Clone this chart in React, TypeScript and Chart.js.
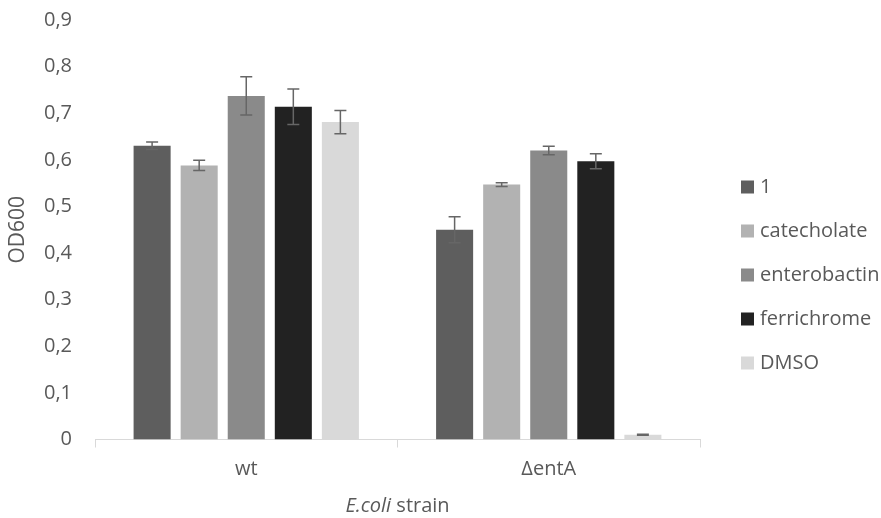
import React, { useEffect, useRef } from "react";
import { Chart, registerables } from "chart.js";

Chart.register(...registerables);

const categories = ["wt", "ΔentA"];
const seriesNames = ["1", "catecholate", "enterobactin", "ferrichrome", "DMSO"];
const seriesColors = ["#5e5e5e", "#b2b2b2", "#8a8a8a", "#222222", "#d9d9d9"];

const values1 = [0.63, 0.45];
const valuesCatecholate = [0.588, 0.547];
const valuesEnterobactin = [0.737, 0.62];
const valuesFerrichrome = [0.714, 0.597];
const valuesDMSO = [0.681, 0.01];

const errors1 = [0.008, 0.028];
const errorsCatecholate = [0.011, 0.004];
const errorsEnterobactin = [0.041, 0.009];
const errorsFerrichrome = [0.038, 0.016];
const errorsDMSO = [0.025, 0.001];

const yTickLabels = ["0", "0,1", "0,2", "0,3", "0,4", "0,5", "0,6", "0,7", "0,8", "0,9"];

const yTitle = "OD600";
const xTitleItalic = "E.coli";
const xTitleRest = " strain";

const FONT = "'Open Sans', sans-serif";
const TEXT = "#595959";

const allValues = [values1, valuesCatecholate, valuesEnterobactin, valuesFerrichrome, valuesDMSO];
const allErrors = [errors1, errorsCatecholate, errorsEnterobactin, errorsFerrichrome, errorsDMSO];

const extrasPlugin = {
  id: "extras",
  afterDatasetsDraw(chart: any) {
    const ctx = chart.ctx;
    const y = chart.scales.y;
    ctx.save();
    ctx.strokeStyle = "#666666";
    ctx.lineWidth = 1.5;
    chart.data.datasets.forEach((ds: any, di: number) => {
      const meta = chart.getDatasetMeta(di);
      meta.data.forEach((bar: any, i: number) => {
        const v = ds.data[i];
        const e = ds.errors[i];
        const x = bar.x;
        const top = y.getPixelForValue(v + e);
        const bot = y.getPixelForValue(v - e);
        ctx.beginPath();
        ctx.moveTo(x, top);
        ctx.lineTo(x, bot);
        ctx.moveTo(x - 6, top);
        ctx.lineTo(x + 6, top);
        ctx.moveTo(x - 6, bot);
        ctx.lineTo(x + 6, bot);
        ctx.stroke();
      });
    });
    ctx.restore();
  },
  afterDraw(chart: any) {
    const ctx = chart.ctx;
    const area = chart.chartArea;
    ctx.save();
    // legend
    ctx.font = `20px ${FONT}`;
    ctx.textBaseline = "middle";
    ctx.textAlign = "left";
    const bx = area.right + 41;
    const y0 = area.top + 167;
    const step = 44;
    seriesNames.forEach((name, i) => {
      const cy = y0 + i * step;
      ctx.fillStyle = seriesColors[i];
      ctx.fillRect(bx, cy - 6.5, 13, 13);
      ctx.fillStyle = TEXT;
      ctx.fillText(name, bx + 19, cy);
    });
    // y title
    ctx.save();
    ctx.translate(18, (area.top + area.bottom) / 2);
    ctx.rotate(-Math.PI / 2);
    ctx.textAlign = "center";
    ctx.textBaseline = "middle";
    ctx.fillStyle = TEXT;
    ctx.font = `21px ${FONT}`;
    ctx.fillText(yTitle, 0, 0);
    ctx.restore();
    // x title
    const italicFont = `italic 20px ${FONT}`;
    const normalFont = `20px ${FONT}`;
    ctx.font = italicFont;
    const w1 = ctx.measureText(xTitleItalic).width;
    ctx.font = normalFont;
    const w2 = ctx.measureText(xTitleRest).width;
    const cx = (area.left + area.right) / 2;
    let sx = cx - (w1 + w2) / 2;
    ctx.textAlign = "left";
    ctx.textBaseline = "middle";
    ctx.fillStyle = TEXT;
    ctx.font = italicFont;
    ctx.fillText(xTitleItalic, sx, 506);
    ctx.font = normalFont;
    ctx.fillText(xTitleRest, sx + w1, 506);
    ctx.restore();
  },
};

export default function App() {
  const ref = useRef<HTMLCanvasElement>(null);
  useEffect(() => {
    if (!ref.current) return;
    const chart = new Chart(ref.current, {
      type: "bar",
      data: {
        labels: categories,
        datasets: seriesNames.map((name, i) => ({
          label: name,
          data: allValues[i],
          errors: allErrors[i],
          backgroundColor: seriesColors[i],
          borderWidth: 0,
          categoryPercentage: 0.778,
          barPercentage: 0.787,
        })) as any,
      },
      options: {
        responsive: false,
        animation: false,
        layout: { padding: { left: 0, right: 181, top: 20, bottom: 0 } },
        plugins: {
          legend: { display: false },
          tooltip: { enabled: false },
        },
        scales: {
          x: {
            grid: {
              display: true,
              drawOnChartArea: false,
              drawTicks: true,
              tickLength: 8,
              color: "#d9d9d9",
              offset: true,
            },
            border: { display: true, color: "#d9d9d9", width: 1 },
            ticks: {
              color: TEXT,
              font: { family: FONT, size: 20 },
              padding: 10,
            },
            afterFit(scale: any) {
              scale.height = 78.5;
              scale.paddingLeft = 0;
              scale.paddingRight = 0;
            },
          },
          y: {
            min: 0,
            max: 0.9,
            grid: { display: false, drawTicks: false },
            border: { display: false },
            ticks: {
              stepSize: 0.1,
              color: TEXT,
              padding: 23,
              font: { family: FONT, size: 20 },
              callback: (_v: any, idx: number) => yTickLabels[idx],
            },
            afterFit(scale: any) {
              scale.width = 95;
              scale.paddingTop = 0;
              scale.paddingBottom = 0;
            },
          },
        },
      },
      plugins: [extrasPlugin],
    });
    return () => chart.destroy();
  }, []);
  return (
    <div style={{ position: "fixed", left: 0, top: 0, width: 881, height: 518, background: "#fff" }}>
      <canvas ref={ref} width={881} height={518} />
    </div>
  );
}
